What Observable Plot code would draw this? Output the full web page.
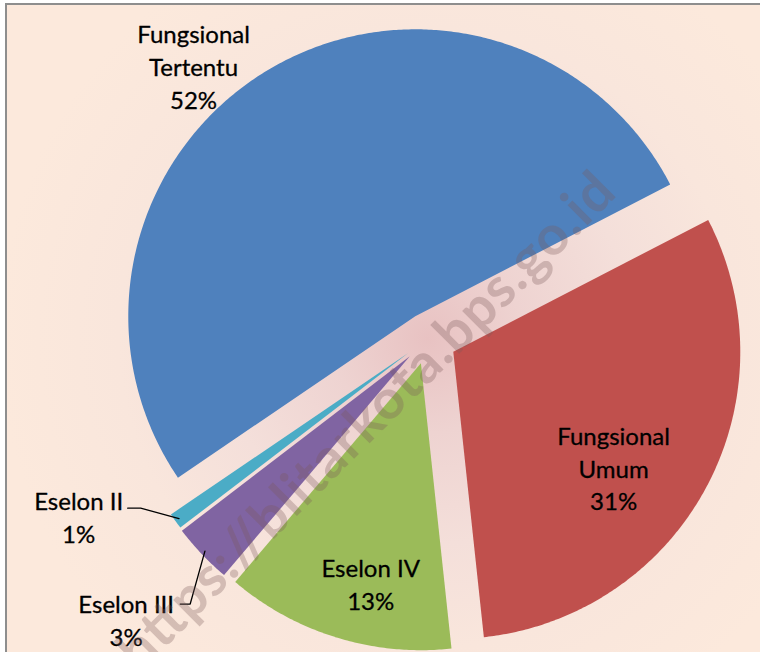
<!DOCTYPE html>
<html>
<head>
<meta charset="utf-8">
<script src="https://cdn.jsdelivr.net/npm/d3@7"></script>
<script src="https://cdn.jsdelivr.net/npm/@observablehq/plot@0.6"></script>
<style>
  body { margin: 0; background: #ffffff; }
  #wrap { position: relative; width: 760px; height: 652px; overflow: hidden; }
  #frame {
    position: absolute; left: 5px; top: 3px; width: 820px; height: 720px;
    border-left: 2px solid #8e8e8e; border-top: 2px solid #8e8e8e;
    background: radial-gradient(circle 430px at 421px 333px, #e8c2c2 0%, #eed3d1 22%, #f4dfda 48%, #f9e6dc 72%, #fce9dc 100%);
  }
  #chart { position: absolute; left: 0; top: 0; }
</style>
</head>
<body>
<div id="wrap"><div id="frame"></div><div id="chart"></div></div>
<script>
// ---- data ----
const categories = ["Fungsional Tertentu", "Fungsional Umum", "Eselon IV", "Eselon III", "Eselon II"];
const labelLines = [["Fungsional", "Tertentu"], ["Fungsional", "Umum"], ["Eselon IV"], ["Eselon III"], ["Eselon II"]];
const shares = [51.9, 30.9, 12.9, 3.4, 0.9];
const colors = ["#4F81BD", "#C0504D", "#9BBB59", "#8064A2", "#4BACC6"];
const watermark = "https://blitarkota.bps.go.id";

// ---- layout / style ----
const W = 760, H = 652, R = 287, CX = 428, CY = 338;
const startBearing = 235.8;
const explode = [0.09, 0.098, 0.09, 0.09, 0.087];
const labelRadius = [1.256, 0.785, 0.876, 1.437, 1.367];
const labelShift = [-9.9, 6.5, -3.8, 0.7, 8.9];
// leader: [dx start px, dy px, dx elbow px] relative to label centre (only outside small labels)
const leaders = { 3: [54, -15, 64], 4: [49, -8, 62] };

const dir = b => { const r = b * Math.PI / 180; return [Math.sin(r), -Math.cos(r)]; };
const ux = px => (px - CX) / R, uy = py => (py - CY) / R;

let acc = startBearing;
const slices = shares.map((s, i) => {
  const a0 = acc, a1 = acc + s * 3.6; acc = a1;
  const mid = (a0 + a1) / 2;
  const [ex, ey] = dir(mid);
  return { i, name: categories[i], a0, a1, mid, ax: ex * explode[i], ay: ey * explode[i] };
});

const rows = [];
for (const s of slices) {
  rows.push({ name: s.name, x: s.ax, y: s.ay });
  const n = Math.max(2, Math.ceil((s.a1 - s.a0) / 0.5));
  for (let k = 0; k <= n; k++) {
    const [dx, dy] = dir(s.a0 + (s.a1 - s.a0) * k / n);
    rows.push({ name: s.name, x: s.ax + dx, y: s.ay + dy });
  }
  rows.push({ name: s.name, x: s.ax, y: s.ay });
}

const labels = slices.map(s => {
  const [dx, dy] = dir(s.mid + labelShift[s.i]);
  return {
    name: s.name,
    x: dx * labelRadius[s.i],
    y: dy * labelRadius[s.i],
    text: labelLines[s.i].join("\n") + "\n" + Math.round(shares[s.i]) + "%"
  };
});

const leaderRows = [];
for (const key of Object.keys(leaders)) {
  const i = +key, s = slices[i], L = labels[i], [sx, sy, ex2] = leaders[key];
  const [dx, dy] = dir(s.mid);
  leaderRows.push({ k: i, x: L.x + sx / R, y: L.y + sy / R });
  leaderRows.push({ k: i, x: L.x + ex2 / R, y: L.y + sy / R });
  leaderRows.push({ k: i, x: s.ax + dx * 0.985, y: s.ay + dy * 0.985 });
}

const chart = Plot.plot({
  width: W, height: H, margin: 0,
  style: { background: "transparent", overflow: "visible" },
  x: { domain: [ux(0), ux(W)], range: [0, W], axis: null },
  y: { domain: [uy(0), uy(H)], range: [0, H], axis: null },
  color: { domain: categories, range: colors },
  marks: [
    Plot.line(rows, { x: "x", y: "y", z: "name", fill: "name", stroke: "none", curve: "linear" }),
    Plot.line(leaderRows, { x: "x", y: "y", z: "k", stroke: "#000", strokeWidth: 1.3, curve: "linear" }),
    Plot.text(labels, {
      x: "x", y: "y", text: "text", fill: "#000", stroke: "#000", strokeWidth: 0.3,
      fontSize: 24, lineHeight: 1.375,
      fontFamily: "Lato, 'Open Sans', sans-serif", lineAnchor: "middle", textAnchor: "middle"
    }),
    Plot.text([watermark], {
      x: () => ux(366), y: () => uy(421), text: d => d, rotate: -45,
      fontSize: 55, fontWeight: "bold", fontFamily: "Lato, sans-serif",
      fill: "#7a5a5a", fillOpacity: 0.3, textAnchor: "middle", lineAnchor: "middle"
    })
  ]
});
document.getElementById("chart").appendChild(chart);
// stretch watermark to the measured length
for (const t of chart.querySelectorAll("text")) {
  if (t.textContent === watermark) { t.setAttribute("textLength", 676); t.setAttribute("lengthAdjust", "spacing"); }
}
</script>
</body>
</html>
